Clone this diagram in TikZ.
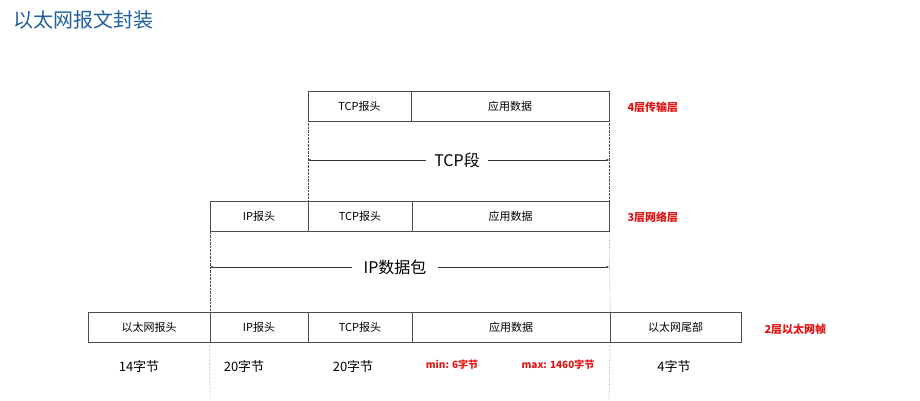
\documentclass[tikz,border=0pt]{standalone}
\usepackage{fontspec}
\setmainfont{Noto Sans CJK SC}
\usetikzlibrary{arrows.meta}
\definecolor{titleblue}{RGB}{31, 95, 160}
\definecolor{layerred}{RGB}{225, 20, 20}
\tikzset{
  field/.style={draw=black!70, minimum height=30pt, inner sep=0pt, font=\fontsize{11}{13}\selectfont},
  layer/.style={anchor=west, text=layerred, font=\bfseries\fontsize{11}{13}\selectfont},
  size/.style={font=\fontsize{13}{15}\selectfont},
  guide/.style={densely dotted, black!70},
  span/.style={black!80, {Stealth[length=3pt]}-{Stealth[length=3pt]}}
}
\begin{document}
\begin{tikzpicture}[x=1pt, y=-1pt]
  \useasboundingbox (0,0) rectangle (920,400);
  \node[anchor=west, text=titleblue, font=\fontsize{20}{24}\selectfont] (title) at (10,20) {以太网报文封装};

  % 4th layer
  \node[field, minimum width=103pt] (tcph4) at (359.5,106) {TCP报头};
  \node[field, minimum width=198pt] (data4) at (510,106) {应用数据};
  \node[layer] (l4) at (624,107) {4层传输层};

  % 3rd layer
  \node[field, minimum width=98pt] (iph3) at (259,216.5) {IP报头};
  \node[field, minimum width=104pt] (tcph3) at (360,216.5) {TCP报头};
  \node[field, minimum width=197pt] (data3) at (510.5,216.5) {应用数据};
  \node[layer] (l3) at (624,217) {3层网络层};

  % 2nd layer
  \node[field, minimum width=122pt] (eth) at (149,327) {以太网报头};
  \node[field, minimum width=98pt] (iph2) at (259,327) {IP报头};
  \node[field, minimum width=104pt] (tcph2) at (360,327) {TCP报头};
  \node[field, minimum width=198pt] (data2) at (511,327) {应用数据};
  \node[field, minimum width=131pt] (ethtail) at (675.5,327) {以太网尾部};
  \node[layer] (l2) at (761,329) {2层以太网帧};

  % guides
  \draw[guide] (tcph4.south west) -- (tcph3.north west);
  \draw[guide] (data4.south east) -- (data3.north east);
  \draw[guide] (iph3.south west) -- (iph2.north west);
  \draw[guide] (data3.south east) -- (data2.north east);
  \coordinate (endL) at (210,400);
  \coordinate (endR) at (609,400);
  \draw[guide] (iph2.south west) -- (endL);
  \draw[guide] (data2.south east) -- (endR);

  % spans
  \node[font=\fontsize{16}{18}\selectfont, fill=white, inner xsep=8pt] (tcpseg) at (457,160) {TCP段};
  \coordinate (tcpL) at (308,160);
  \coordinate (tcpR) at (609,160);
  \draw[span] (tcpL) -- (tcpR);
  \node[font=\fontsize{16}{18}\selectfont, fill=white, inner xsep=12pt] (ippkt) at (395,267) {IP数据包};
  \coordinate (ipL) at (210,267);
  \coordinate (ipR) at (609,267);
  \draw[span] (ipL) -- (ipR);
  \node[font=\fontsize{16}{18}\selectfont, fill=white, inner xsep=8pt] at (tcpseg) {TCP段};
  \node[font=\fontsize{16}{18}\selectfont, fill=white, inner xsep=12pt] at (ippkt) {IP数据包};

  % sizes
  \node[size] (s1) at (139,366) {14字节};
  \node[size] (s2) at (244,366) {20字节};
  \node[size] (s3) at (353,366) {20字节};
  \node[layer, anchor=center, font=\bfseries\fontsize{10}{12}\selectfont] (s4) at (452,365) {min: 6字节};
  \node[layer, anchor=center, font=\bfseries\fontsize{10}{12}\selectfont] (s5) at (558,365) {max: 1460字节};
  \node[size] (s6) at (674,366) {4字节};
\end{tikzpicture}
\end{document}
